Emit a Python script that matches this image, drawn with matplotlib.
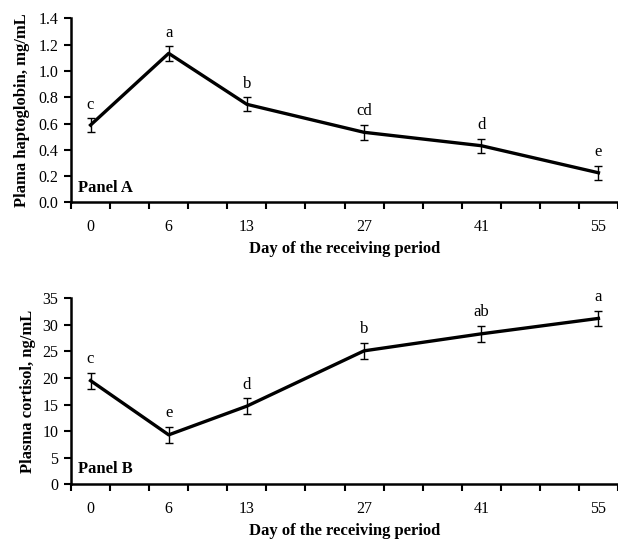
import matplotlib
matplotlib.use("Agg")
import matplotlib.pyplot as plt
import numpy as np

plt.rcParams['font.family'] = ['Liberation Serif', 'DejaVu Serif']

days = ["0", "6", "13", "27", "41", "55"]
slots = [0, 2, 4, 7, 10, 13]          # category slot of each day on the Excel-like axis
n_slots = 14

hapto = [0.588, 1.134, 0.746, 0.533, 0.431, 0.225]
hapto_se = [0.053, 0.055, 0.052, 0.057, 0.052, 0.055]
hapto_letters = ["c", "a", "b", "cd", "d", "e"]

cort = [19.5, 9.3, 14.7, 25.1, 28.3, 31.2]
cort_se = [1.5, 1.5, 1.5, 1.5, 1.5, 1.45]
cort_letters = ["c", "e", "d", "b", "ab", "a"]

fig = plt.figure(figsize=(6.18, 5.41), dpi=100)
axA = fig.add_axes([0.1149, 0.626, 0.8851, 0.340])
axB = fig.add_axes([0.1149, 0.1048, 0.8851, 0.344])

def style(ax, y, se, letters, ylim, ystep, ylabel, panel, fmt, ylabelpad):
    ax.errorbar(slots, y, yerr=se, color='black', lw=2.4, elinewidth=1.0,
                capsize=3, capthick=1.0, zorder=3)
    for xs, yv, e, l in zip(slots, y, se, letters):
        ax.annotate(l, (xs, yv + e), xytext=(0, 4), textcoords='offset points',
                    ha='center', va='bottom', fontsize=12)
    ax.set_xlim(-0.5, n_slots - 0.5)
    ax.set_ylim(0, ylim)
    ax.set_yticks(np.arange(0, ylim + ystep / 2, ystep))
    ax.yaxis.set_major_formatter(matplotlib.ticker.FormatStrFormatter(fmt))
    ax.set_xticks(slots)
    ax.set_xticklabels(days)
    ax.set_xticks(np.arange(-0.5, n_slots, 1.0), minor=True)
    ax.tick_params(axis='x', which='major', length=0, pad=12, labelsize=11.5)
    ax.tick_params(axis='x', which='minor', length=5, width=1.5, direction='out')
    ax.tick_params(axis='y', length=5, width=1.5, direction='out', labelsize=11.5, pad=4)
    for s in ['top', 'right']:
        ax.spines[s].set_visible(False)
    for s in ['left', 'bottom']:
        ax.spines[s].set_linewidth(1.8)
    ax.set_xlabel("Day of the receiving period", fontsize=12, fontweight='bold', labelpad=4)
    ax.set_ylabel(ylabel, fontsize=12, fontweight='bold', labelpad=ylabelpad)
    ax.text(0.012, 0.08, panel, transform=ax.transAxes, fontsize=12,
            fontweight='bold', ha='left', va='center')

style(axA, hapto, hapto_se, hapto_letters, 1.4, 0.2,
      "Plama haptoglobin, mg/mL", "Panel A", "%.1f", 6)
style(axB, cort, cort_se, cort_letters, 35, 5,
      "Plasma cortisol, ng/mL", "Panel B", "%d", 5)

fig.savefig("out.png", dpi=100)
